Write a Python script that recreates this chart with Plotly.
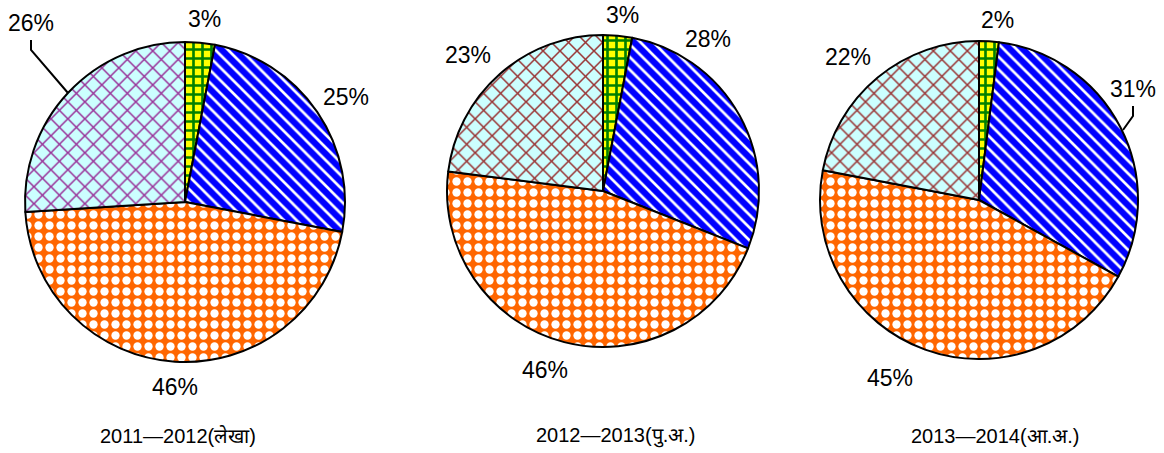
import plotly.graph_objects as go

W, H = 1164, 453

titles = ["2011\u20142012(लेखा)", "2012\u20142013(पु.अ.)", "2013\u20142014(आ.अ.)"]
categories = ["A", "B", "C", "D"]
values_2011 = [3, 25, 46, 26]
values_2012 = [3, 28, 46, 23]
values_2013 = [2, 31, 45, 22]
series = [values_2011, values_2012, values_2013]

# layout (pixels): pie centres / radii, label and title positions
centers = [(185, 202), (603, 191), (979, 200)]
radii = [160, 156, 159]
title_pos = [(178, 436), (615, 436), (995, 436)]
label_pos = [
    [(204, 19), (346, 97), (175, 387), (31, 23)],
    [(622, 15), (708, 39), (545, 370), (468, 55)],
    [(997, 20), (1133, 89), (890, 378), (848, 57)],
]
# leader lines: (slice index, end point in pixels) or None
leaders = [
    (3, (68, 93)),
    None,
    (1, (1123, 130)),
]
cyan_line = ["#993399", "#993333", "#993333"]
FONT = "Liberation Sans, Arial, sans-serif"

fig = go.Figure()
for i, vals in enumerate(series):
    cx, cy = centers[i]
    r = radii[i]
    dom_x = [(cx - r) / W, (cx + r) / W]
    dom_y = [1 - (cy + r) / H, 1 - (cy - r) / H]
    fig.add_trace(go.Pie(
        labels=categories,
        values=vals,
        sort=False,
        direction="clockwise",
        rotation=0,
        domain=dict(x=dom_x, y=dom_y),
        textinfo="none",
        marker=dict(
            colors=["#ffff00", "#0000ff", "#ff6600", "#ccffff"],
            line=dict(color="black", width=2),
            pattern=dict(
                shape=["+", "\\", ".", "x"],
                fgcolor=["#008000", "#ffffff", "#ffffff", cyan_line[i]],
                bgcolor=["#ffff00", "#0000ff", "#ff6600", "#ccffff"],
                size=[9, 9, 11, 12],
                solidity=[0.5, 0.3, 0.45, 0.24],
                fillmode="replace",
            ),
        ),
        showlegend=False,
        hoverinfo="skip",
    ))
    for j, v in enumerate(vals):
        lx, ly = label_pos[i][j]
        fig.add_annotation(
            x=lx / W, y=1 - ly / H, xref="paper", yref="paper",
            xanchor="center", yanchor="middle",
            text=f"{v}%", showarrow=False,
            font=dict(family=FONT, size=23, color="black"),
        )
    if leaders[i] is not None:
        j, (ex, ey) = leaders[i]
        lx, ly = label_pos[i][j]
        fig.add_shape(type="path", xref="paper", yref="paper",
                      path=f"M {lx / W},{1 - (ly + 17) / H} L {lx / W},{1 - (ly + 27) / H} L {ex / W},{1 - ey / H}",
                      line=dict(color="black", width=2))
    tx, ty = title_pos[i]
    fig.add_annotation(
        x=tx / W, y=1 - ty / H, xref="paper", yref="paper",
        xanchor="center", yanchor="middle",
        text=titles[i], showarrow=False,
        font=dict(family=FONT, size=20, color="black"),
    )

fig.update_layout(
    width=W, height=H,
    margin=dict(l=0, r=0, t=0, b=0),
    paper_bgcolor="white",
    plot_bgcolor="white",
)
fig.write_html("out.html", config={"displayModeBar": False},
               post_script="document.body.style.margin='0px';")
